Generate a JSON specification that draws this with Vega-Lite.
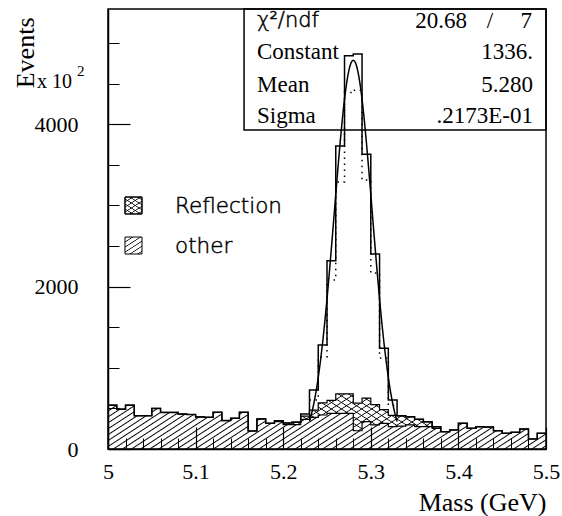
{
"$schema":"https://vega.github.io/schema/vega-lite/v6.json",
"width":438,"height":440,
"autosize":{"type":"none"},
"padding":{"left":108,"top":9,"right":16,"bottom":67},
"background":"white",
"config":{"view":{"stroke":"#000","strokeWidth":1.5}},
"resolve":{"axis":{"x":"independent","y":"independent"}},
"datasets":{
"one":[{}],
"h":[
{"m":5.00,"o":540,"t":540},{"m":5.01,"o":490,"t":490},{"m":5.02,"o":540,"t":540},{"m":5.03,"o":410,"t":410},{"m":5.04,"o":410,"t":410},
{"m":5.05,"o":500,"t":500},{"m":5.06,"o":450,"t":450},{"m":5.07,"o":450,"t":450},{"m":5.08,"o":430,"t":430},{"m":5.09,"o":425,"t":425},
{"m":5.10,"o":395,"t":395},{"m":5.11,"o":390,"t":390},{"m":5.12,"o":452,"t":452},{"m":5.13,"o":350,"t":350},{"m":5.14,"o":378,"t":378},
{"m":5.15,"o":452,"t":452},{"m":5.16,"o":222,"t":222},{"m":5.17,"o":370,"t":370},{"m":5.18,"o":316,"t":316},{"m":5.19,"o":337,"t":347},
{"m":5.20,"o":300,"t":320},{"m":5.21,"o":300,"t":330},{"m":5.22,"o":366,"t":430},{"m":5.23,"o":390,"t":727},{"m":5.24,"o":419,"t":1281},
{"m":5.25,"o":440,"t":2320},{"m":5.26,"o":440,"t":3732},{"m":5.27,"o":440,"t":4845},{"m":5.28,"o":225,"t":4866},{"m":5.29,"o":337,"t":3630},
{"m":5.30,"o":296,"t":2402},{"m":5.31,"o":316,"t":1240},{"m":5.32,"o":275,"t":604},{"m":5.33,"o":283,"t":410},{"m":5.34,"o":296,"t":396},
{"m":5.35,"o":275,"t":365},{"m":5.36,"o":275,"t":335},{"m":5.37,"o":255,"t":275},{"m":5.38,"o":214,"t":214},{"m":5.39,"o":234,"t":234},
{"m":5.40,"o":316,"t":316},{"m":5.41,"o":255,"t":255},{"m":5.42,"o":275,"t":275},{"m":5.43,"o":270,"t":270},{"m":5.44,"o":226,"t":226},
{"m":5.45,"o":193,"t":193},{"m":5.46,"o":205,"t":205},{"m":5.47,"o":246,"t":246},{"m":5.48,"o":123,"t":123},{"m":5.49,"o":193,"t":193},
{"m":5.50,"o":193,"t":193}],
"r":[
{"m":5.19,"o":337,"t":347},{"m":5.20,"o":300,"t":320},{"m":5.21,"o":300,"t":330},{"m":5.22,"o":366,"t":406},{"m":5.23,"o":390,"t":480},
{"m":5.24,"o":419,"t":569},{"m":5.25,"o":440,"t":600},{"m":5.26,"o":440,"t":680},{"m":5.27,"o":440,"t":680},{"m":5.28,"o":225,"t":565},
{"m":5.29,"o":337,"t":627},{"m":5.30,"o":296,"t":546},{"m":5.31,"o":316,"t":486},{"m":5.32,"o":275,"t":415},{"m":5.33,"o":283,"t":408},
{"m":5.34,"o":296,"t":396},{"m":5.35,"o":275,"t":365},{"m":5.36,"o":275,"t":335},{"m":5.37,"o":255,"t":275},{"m":5.38,"o":255,"t":275}],
"sig":[
{"m":5.23,"v":604},{"m":5.24,"v":1133},{"m":5.25,"v":2082},{"m":5.26,"v":3290},{"m":5.27,"v":4390},{"m":5.28,"v":4420},
{"m":5.29,"v":3313},{"m":5.30,"v":2168},{"m":5.31,"v":1121},{"m":5.32,"v":540},{"m":5.33,"v":540}],
"fit":[
{"m":5.23,"g":339},{"m":5.2325,"g":439},{"m":5.235,"g":561},{"m":5.2375,"g":707},{"m":5.24,"g":880},{"m":5.2425,"g":1081},
{"m":5.245,"g":1309},{"m":5.2475,"g":1565},{"m":5.25,"g":1847},{"m":5.2525,"g":2151},{"m":5.255,"g":2471},{"m":5.2575,"g":2802},
{"m":5.26,"g":3136},{"m":5.2625,"g":3463},{"m":5.265,"g":3775},{"m":5.2675,"g":4060},{"m":5.27,"g":4309},{"m":5.2725,"g":4513},
{"m":5.275,"g":4665},{"m":5.2775,"g":4758},{"m":5.28,"g":4790},{"m":5.2825,"g":4758},{"m":5.285,"g":4665},{"m":5.2875,"g":4513},
{"m":5.29,"g":4309},{"m":5.2925,"g":4060},{"m":5.295,"g":3775},{"m":5.2975,"g":3463},{"m":5.30,"g":3136},{"m":5.3025,"g":2802},
{"m":5.305,"g":2471},{"m":5.3075,"g":2151},{"m":5.31,"g":1847},{"m":5.3125,"g":1565},{"m":5.315,"g":1309},{"m":5.3175,"g":1081},
{"m":5.32,"g":880},{"m":5.3225,"g":707},{"m":5.325,"g":561},{"m":5.3275,"g":439},{"m":5.33,"g":339}]
},
"layer":[
{"data":{"name":"h"},
 "mark":{"type":"area","interpolate":"step-after","fill":{"gradient":"linear","x1":0,"y1":0,"x2":1.1273,"y2":0.1737,"stops":[
{"offset":0.0145,"color":"transparent"},{"offset":0.018,"color":"#000"},{"offset":0.0215,"color":"transparent"},
{"offset":0.0325,"color":"transparent"},{"offset":0.036,"color":"#000"},{"offset":0.0395,"color":"transparent"},
{"offset":0.0505,"color":"transparent"},{"offset":0.054,"color":"#000"},{"offset":0.0575,"color":"transparent"},
{"offset":0.0685,"color":"transparent"},{"offset":0.072,"color":"#000"},{"offset":0.0755,"color":"transparent"},
{"offset":0.0865,"color":"transparent"},{"offset":0.09,"color":"#000"},{"offset":0.0935,"color":"transparent"},
{"offset":0.1045,"color":"transparent"},{"offset":0.108,"color":"#000"},{"offset":0.1115,"color":"transparent"},
{"offset":0.1225,"color":"transparent"},{"offset":0.126,"color":"#000"},{"offset":0.1295,"color":"transparent"},
{"offset":0.1405,"color":"transparent"},{"offset":0.144,"color":"#000"},{"offset":0.1475,"color":"transparent"},
{"offset":0.1585,"color":"transparent"},{"offset":0.162,"color":"#000"},{"offset":0.1655,"color":"transparent"},
{"offset":0.1765,"color":"transparent"},{"offset":0.18,"color":"#000"},{"offset":0.1835,"color":"transparent"},
{"offset":0.1945,"color":"transparent"},{"offset":0.198,"color":"#000"},{"offset":0.2015,"color":"transparent"},
{"offset":0.2125,"color":"transparent"},{"offset":0.216,"color":"#000"},{"offset":0.2195,"color":"transparent"},
{"offset":0.2305,"color":"transparent"},{"offset":0.234,"color":"#000"},{"offset":0.2375,"color":"transparent"},
{"offset":0.2485,"color":"transparent"},{"offset":0.252,"color":"#000"},{"offset":0.2555,"color":"transparent"},
{"offset":0.2665,"color":"transparent"},{"offset":0.27,"color":"#000"},{"offset":0.2735,"color":"transparent"},
{"offset":0.2845,"color":"transparent"},{"offset":0.288,"color":"#000"},{"offset":0.2915,"color":"transparent"},
{"offset":0.3025,"color":"transparent"},{"offset":0.306,"color":"#000"},{"offset":0.3095,"color":"transparent"},
{"offset":0.3205,"color":"transparent"},{"offset":0.324,"color":"#000"},{"offset":0.3275,"color":"transparent"},
{"offset":0.3385,"color":"transparent"},{"offset":0.342,"color":"#000"},{"offset":0.3455,"color":"transparent"},
{"offset":0.3565,"color":"transparent"},{"offset":0.36,"color":"#000"},{"offset":0.3635,"color":"transparent"},
{"offset":0.3745,"color":"transparent"},{"offset":0.378,"color":"#000"},{"offset":0.3815,"color":"transparent"},
{"offset":0.3925,"color":"transparent"},{"offset":0.396,"color":"#000"},{"offset":0.3995,"color":"transparent"},
{"offset":0.4105,"color":"transparent"},{"offset":0.414,"color":"#000"},{"offset":0.4175,"color":"transparent"},
{"offset":0.4285,"color":"transparent"},{"offset":0.432,"color":"#000"},{"offset":0.4355,"color":"transparent"},
{"offset":0.4465,"color":"transparent"},{"offset":0.45,"color":"#000"},{"offset":0.4535,"color":"transparent"},
{"offset":0.4645,"color":"transparent"},{"offset":0.468,"color":"#000"},{"offset":0.4715,"color":"transparent"},
{"offset":0.4825,"color":"transparent"},{"offset":0.486,"color":"#000"},{"offset":0.4895,"color":"transparent"},
{"offset":0.5005,"color":"transparent"},{"offset":0.504,"color":"#000"},{"offset":0.5075,"color":"transparent"},
{"offset":0.5185,"color":"transparent"},{"offset":0.522,"color":"#000"},{"offset":0.5255,"color":"transparent"},
{"offset":0.5365,"color":"transparent"},{"offset":0.54,"color":"#000"},{"offset":0.5435,"color":"transparent"},
{"offset":0.5545,"color":"transparent"},{"offset":0.558,"color":"#000"},{"offset":0.5615,"color":"transparent"},
{"offset":0.5725,"color":"transparent"},{"offset":0.576,"color":"#000"},{"offset":0.5795,"color":"transparent"},
{"offset":0.5905,"color":"transparent"},{"offset":0.594,"color":"#000"},{"offset":0.5975,"color":"transparent"},
{"offset":0.6085,"color":"transparent"},{"offset":0.612,"color":"#000"},{"offset":0.6155,"color":"transparent"},
{"offset":0.6265,"color":"transparent"},{"offset":0.63,"color":"#000"},{"offset":0.6335,"color":"transparent"},
{"offset":0.6445,"color":"transparent"},{"offset":0.648,"color":"#000"},{"offset":0.6515,"color":"transparent"},
{"offset":0.6625,"color":"transparent"},{"offset":0.666,"color":"#000"},{"offset":0.6695,"color":"transparent"},
{"offset":0.6805,"color":"transparent"},{"offset":0.684,"color":"#000"},{"offset":0.6875,"color":"transparent"},
{"offset":0.6985,"color":"transparent"},{"offset":0.702,"color":"#000"},{"offset":0.7055,"color":"transparent"},
{"offset":0.7165,"color":"transparent"},{"offset":0.72,"color":"#000"},{"offset":0.7235,"color":"transparent"},
{"offset":0.7345,"color":"transparent"},{"offset":0.738,"color":"#000"},{"offset":0.7415,"color":"transparent"},
{"offset":0.7525,"color":"transparent"},{"offset":0.756,"color":"#000"},{"offset":0.7595,"color":"transparent"},
{"offset":0.7705,"color":"transparent"},{"offset":0.774,"color":"#000"},{"offset":0.7775,"color":"transparent"},
{"offset":0.7885,"color":"transparent"},{"offset":0.792,"color":"#000"},{"offset":0.7955,"color":"transparent"},
{"offset":0.8065,"color":"transparent"},{"offset":0.81,"color":"#000"},{"offset":0.8135,"color":"transparent"},
{"offset":0.8245,"color":"transparent"},{"offset":0.828,"color":"#000"},{"offset":0.8315,"color":"transparent"},
{"offset":0.8425,"color":"transparent"},{"offset":0.846,"color":"#000"},{"offset":0.8495,"color":"transparent"},
{"offset":0.8605,"color":"transparent"},{"offset":0.864,"color":"#000"},{"offset":0.8675,"color":"transparent"},
{"offset":0.8785,"color":"transparent"},{"offset":0.882,"color":"#000"},{"offset":0.8855,"color":"transparent"},
{"offset":0.8965,"color":"transparent"},{"offset":0.9,"color":"#000"},{"offset":0.9035,"color":"transparent"},
{"offset":0.9145,"color":"transparent"},{"offset":0.918,"color":"#000"},{"offset":0.9215,"color":"transparent"},
{"offset":0.9325,"color":"transparent"},{"offset":0.936,"color":"#000"},{"offset":0.9395,"color":"transparent"},
{"offset":0.9505,"color":"transparent"},{"offset":0.954,"color":"#000"},{"offset":0.9575,"color":"transparent"},
{"offset":0.9685,"color":"transparent"},{"offset":0.972,"color":"#000"},{"offset":0.9755,"color":"transparent"},
{"offset":0.9865,"color":"transparent"},{"offset":0.99,"color":"#000"},{"offset":0.9935,"color":"transparent"}]}},
 "encoding":{
  "x":{"field":"m","type":"quantitative","scale":{"domain":[5,5.5],"nice":false,"zero":false},
   "axis":{"values":[5,5.1,5.2,5.3,5.4,5.5],"format":"~g","orient":"bottom","tickSize":-22,"tickColor":"#000","tickWidth":1.2,"domain":true,"domainColor":"#000","domainWidth":1.5,"labelFont":"Liberation Serif","labelFontSize":22,"labelColor":"#000","labelPadding":34,"labelBaseline":"top","labelFlush":false,"labelOverlap":false,"labelBound":false,"grid":false,"title":"Mass (GeV)","titleFont":"Liberation Serif","titleFontSize":26,"titleFontWeight":"normal","titleColor":"#000","titleAlign":"right","titleBaseline":"alphabetic","titleX":438,"titleY":61,"zindex":1}},
  "y":{"field":"o","type":"quantitative","stack":null,"scale":{"domain":[0,5420],"nice":false,"zero":false},
   "axis":{"values":[0,2000,4000],"format":"d","orient":"left","tickSize":-22,"tickColor":"#000","tickWidth":1.2,"domain":true,"domainColor":"#000","domainWidth":1.5,"labelFont":"Liberation Serif","labelFontSize":22,"labelColor":"#000","labelPadding":52,"labelAlign":"right","labelBaseline":"middle","labelOverlap":false,"labelBound":false,"grid":false,"title":"Events","titleFont":"Liberation Serif","titleFontSize":26,"titleFontWeight":"normal","titleColor":"#000","titleAngle":270,"titleAlign":"right","titleBaseline":"alphabetic","titleX":-75,"titleY":8,"zindex":1}}
 }},
{"data":{"name":"r"},
 "mark":{"type":"area","interpolate":"step-after","fill":{"gradient":"linear","x1":0,"y1":0,"x2":1.2014,"y2":0.4105,"stops":[
{"offset":0.0385,"color":"transparent"},{"offset":0.045,"color":"#000"},{"offset":0.0515,"color":"transparent"},
{"offset":0.0835,"color":"transparent"},{"offset":0.09,"color":"#000"},{"offset":0.0965,"color":"transparent"},
{"offset":0.1285,"color":"transparent"},{"offset":0.135,"color":"#000"},{"offset":0.1415,"color":"transparent"},
{"offset":0.1735,"color":"transparent"},{"offset":0.18,"color":"#000"},{"offset":0.1865,"color":"transparent"},
{"offset":0.2185,"color":"transparent"},{"offset":0.225,"color":"#000"},{"offset":0.2315,"color":"transparent"},
{"offset":0.2635,"color":"transparent"},{"offset":0.27,"color":"#000"},{"offset":0.2765,"color":"transparent"},
{"offset":0.3085,"color":"transparent"},{"offset":0.315,"color":"#000"},{"offset":0.3215,"color":"transparent"},
{"offset":0.3535,"color":"transparent"},{"offset":0.36,"color":"#000"},{"offset":0.3665,"color":"transparent"},
{"offset":0.3985,"color":"transparent"},{"offset":0.405,"color":"#000"},{"offset":0.4115,"color":"transparent"},
{"offset":0.4435,"color":"transparent"},{"offset":0.45,"color":"#000"},{"offset":0.4565,"color":"transparent"},
{"offset":0.4885,"color":"transparent"},{"offset":0.495,"color":"#000"},{"offset":0.5015,"color":"transparent"},
{"offset":0.5335,"color":"transparent"},{"offset":0.54,"color":"#000"},{"offset":0.5465,"color":"transparent"},
{"offset":0.5785,"color":"transparent"},{"offset":0.585,"color":"#000"},{"offset":0.5915,"color":"transparent"},
{"offset":0.6235,"color":"transparent"},{"offset":0.63,"color":"#000"},{"offset":0.6365,"color":"transparent"},
{"offset":0.6685,"color":"transparent"},{"offset":0.675,"color":"#000"},{"offset":0.6815,"color":"transparent"},
{"offset":0.7135,"color":"transparent"},{"offset":0.72,"color":"#000"},{"offset":0.7265,"color":"transparent"},
{"offset":0.7585,"color":"transparent"},{"offset":0.765,"color":"#000"},{"offset":0.7715,"color":"transparent"},
{"offset":0.8035,"color":"transparent"},{"offset":0.81,"color":"#000"},{"offset":0.8165,"color":"transparent"},
{"offset":0.8485,"color":"transparent"},{"offset":0.855,"color":"#000"},{"offset":0.8615,"color":"transparent"},
{"offset":0.8935,"color":"transparent"},{"offset":0.9,"color":"#000"},{"offset":0.9065,"color":"transparent"},
{"offset":0.9385,"color":"transparent"},{"offset":0.945,"color":"#000"},{"offset":0.9515,"color":"transparent"},
{"offset":0.9835,"color":"transparent"},{"offset":0.99,"color":"#000"},{"offset":0.9965,"color":"transparent"}]}},
 "encoding":{
  "x":{"field":"m","type":"quantitative","scale":{"domain":[5,5.5],"nice":false,"zero":false},"axis":null},
  "y":{"field":"t","type":"quantitative","stack":null,"scale":{"domain":[0,5420],"nice":false,"zero":false},"axis":null},
  "y2":{"field":"o"}}},
{"data":{"name":"r"},
 "mark":{"type":"area","interpolate":"step-after","fill":{"gradient":"linear","x1":0,"y1":1,"x2":1.2014,"y2":0.5895,"stops":[
{"offset":0.0385,"color":"transparent"},{"offset":0.045,"color":"#000"},{"offset":0.0515,"color":"transparent"},
{"offset":0.0835,"color":"transparent"},{"offset":0.09,"color":"#000"},{"offset":0.0965,"color":"transparent"},
{"offset":0.1285,"color":"transparent"},{"offset":0.135,"color":"#000"},{"offset":0.1415,"color":"transparent"},
{"offset":0.1735,"color":"transparent"},{"offset":0.18,"color":"#000"},{"offset":0.1865,"color":"transparent"},
{"offset":0.2185,"color":"transparent"},{"offset":0.225,"color":"#000"},{"offset":0.2315,"color":"transparent"},
{"offset":0.2635,"color":"transparent"},{"offset":0.27,"color":"#000"},{"offset":0.2765,"color":"transparent"},
{"offset":0.3085,"color":"transparent"},{"offset":0.315,"color":"#000"},{"offset":0.3215,"color":"transparent"},
{"offset":0.3535,"color":"transparent"},{"offset":0.36,"color":"#000"},{"offset":0.3665,"color":"transparent"},
{"offset":0.3985,"color":"transparent"},{"offset":0.405,"color":"#000"},{"offset":0.4115,"color":"transparent"},
{"offset":0.4435,"color":"transparent"},{"offset":0.45,"color":"#000"},{"offset":0.4565,"color":"transparent"},
{"offset":0.4885,"color":"transparent"},{"offset":0.495,"color":"#000"},{"offset":0.5015,"color":"transparent"},
{"offset":0.5335,"color":"transparent"},{"offset":0.54,"color":"#000"},{"offset":0.5465,"color":"transparent"},
{"offset":0.5785,"color":"transparent"},{"offset":0.585,"color":"#000"},{"offset":0.5915,"color":"transparent"},
{"offset":0.6235,"color":"transparent"},{"offset":0.63,"color":"#000"},{"offset":0.6365,"color":"transparent"},
{"offset":0.6685,"color":"transparent"},{"offset":0.675,"color":"#000"},{"offset":0.6815,"color":"transparent"},
{"offset":0.7135,"color":"transparent"},{"offset":0.72,"color":"#000"},{"offset":0.7265,"color":"transparent"},
{"offset":0.7585,"color":"transparent"},{"offset":0.765,"color":"#000"},{"offset":0.7715,"color":"transparent"},
{"offset":0.8035,"color":"transparent"},{"offset":0.81,"color":"#000"},{"offset":0.8165,"color":"transparent"},
{"offset":0.8485,"color":"transparent"},{"offset":0.855,"color":"#000"},{"offset":0.8615,"color":"transparent"},
{"offset":0.8935,"color":"transparent"},{"offset":0.9,"color":"#000"},{"offset":0.9065,"color":"transparent"},
{"offset":0.9385,"color":"transparent"},{"offset":0.945,"color":"#000"},{"offset":0.9515,"color":"transparent"},
{"offset":0.9835,"color":"transparent"},{"offset":0.99,"color":"#000"},{"offset":0.9965,"color":"transparent"}]}},
 "encoding":{
  "x":{"field":"m","type":"quantitative","scale":{"domain":[5,5.5],"nice":false,"zero":false},"axis":null},
  "y":{"field":"t","type":"quantitative","stack":null,"scale":{"domain":[0,5420],"nice":false,"zero":false},"axis":null},
  "y2":{"field":"o"}}},
{"data":{"name":"h"},
 "mark":{"type":"line","interpolate":"step-after","stroke":"#000","strokeWidth":1.2},
 "encoding":{
  "x":{"field":"m","type":"quantitative","scale":{"domain":[5,5.5],"nice":false,"zero":false},
   "axis":{"values":[5.02,5.04,5.06,5.08,5.12,5.14,5.16,5.18,5.22,5.24,5.26,5.28,5.32,5.34,5.36,5.38,5.42,5.44,5.46,5.48],"orient":"bottom","tickSize":-11,"tickColor":"#000","tickWidth":1,"labels":false,"domain":false,"grid":false,"title":null,"zindex":1}},
  "y":{"field":"o","type":"quantitative","stack":null,"scale":{"domain":[0,5420],"nice":false,"zero":false},
   "axis":{"values":[500,1000,1500,2500,3000,3500,4500,5000],"orient":"left","tickSize":-11,"tickColor":"#000","tickWidth":1,"labels":false,"domain":false,"grid":false,"title":null,"zindex":1}}}},
{"data":{"name":"r"},
 "mark":{"type":"line","interpolate":"step-after","stroke":"#000","strokeWidth":1.2},
 "encoding":{
  "x":{"field":"m","type":"quantitative","scale":{"domain":[5,5.5],"nice":false,"zero":false},"axis":null},
  "y":{"field":"t","type":"quantitative","stack":null,"scale":{"domain":[0,5420],"nice":false,"zero":false},"axis":null}}},
{"data":{"name":"h"},
 "mark":{"type":"line","interpolate":"step-after","stroke":"#000","strokeWidth":1.5},
 "encoding":{
  "x":{"field":"m","type":"quantitative","scale":{"domain":[5,5.5],"nice":false,"zero":false},"axis":null},
  "y":{"field":"t","type":"quantitative","stack":null,"scale":{"domain":[0,5420],"nice":false,"zero":false},"axis":null}}},
{"data":{"name":"sig"},
 "mark":{"type":"line","interpolate":"step-after","stroke":"#000","strokeWidth":1.5,"strokeDash":[1.5,4.5]},
 "encoding":{
  "x":{"field":"m","type":"quantitative","scale":{"domain":[5,5.5],"nice":false,"zero":false},"axis":null},
  "y":{"field":"v","type":"quantitative","stack":null,"scale":{"domain":[0,5420],"nice":false,"zero":false},"axis":null}}},
{"data":{"name":"fit"},
 "mark":{"type":"line","interpolate":"monotone","stroke":"#000","strokeWidth":1.5},
 "encoding":{
  "x":{"field":"m","type":"quantitative","scale":{"domain":[5,5.5],"nice":false,"zero":false},"axis":null},
  "y":{"field":"g","type":"quantitative","stack":null,"scale":{"domain":[0,5420],"nice":false,"zero":false},"axis":null}}},
{"data":{"name":"one"},
 "mark":{"type":"rect","fill":null,"stroke":"#000","strokeWidth":1.5},
 "encoding":{
  "x":{"datum":5.1553,"type":"quantitative","scale":{"domain":[5,5.5],"nice":false,"zero":false},"axis":null},"x2":{"datum":5.5},
  "y":{"datum":3930,"type":"quantitative","scale":{"domain":[0,5420],"nice":false,"zero":false},"axis":null},"y2":{"datum":5420}}},
{"data":{"name":"one"},
 "mark":{"type":"text","text":"χ²/ndf","align":"left","baseline":"middle","font":"DejaVu Sans","fontWeight":200,"fontSize":21,"color":"#000","stroke":"#000","strokeWidth":0.5},
 "encoding":{"x":{"datum":5.1701,"type":"quantitative","scale":{"domain":[5,5.5],"nice":false,"zero":false},"axis":null},"y":{"datum":5272,"type":"quantitative","scale":{"domain":[0,5420],"nice":false,"zero":false},"axis":null}}},
{"data":{"name":"one"},
 "mark":{"type":"text","text":"20.68","align":"right","baseline":"middle","font":"Liberation Serif","fontSize":23,"color":"#000"},
 "encoding":{"x":{"datum":5.4098,"type":"quantitative","scale":{"domain":[5,5.5],"nice":false,"zero":false},"axis":null},"y":{"datum":5272,"type":"quantitative","scale":{"domain":[0,5420],"nice":false,"zero":false},"axis":null}}},
{"data":{"name":"one"},
 "mark":{"type":"text","text":"/","align":"center","baseline":"middle","font":"Liberation Serif","fontSize":23,"color":"#000"},
 "encoding":{"x":{"datum":5.4361,"type":"quantitative","scale":{"domain":[5,5.5],"nice":false,"zero":false},"axis":null},"y":{"datum":5272,"type":"quantitative","scale":{"domain":[0,5420],"nice":false,"zero":false},"axis":null}}},
{"data":{"name":"one"},
 "mark":{"type":"text","text":"7","align":"right","baseline":"middle","font":"Liberation Serif","fontSize":23,"color":"#000"},
 "encoding":{"x":{"datum":5.484,"type":"quantitative","scale":{"domain":[5,5.5],"nice":false,"zero":false},"axis":null},"y":{"datum":5272,"type":"quantitative","scale":{"domain":[0,5420],"nice":false,"zero":false},"axis":null}}},
{"data":{"name":"one"},
 "mark":{"type":"text","text":"Constant","align":"left","baseline":"middle","font":"Liberation Serif","fontSize":23,"color":"#000"},
 "encoding":{"x":{"datum":5.1701,"type":"quantitative","scale":{"domain":[5,5.5],"nice":false,"zero":false},"axis":null},"y":{"datum":4890,"type":"quantitative","scale":{"domain":[0,5420],"nice":false,"zero":false},"axis":null}}},
{"data":{"name":"one"},
 "mark":{"type":"text","text":"1336.","align":"right","baseline":"middle","font":"Liberation Serif","fontSize":23,"color":"#000"},
 "encoding":{"x":{"datum":5.4852,"type":"quantitative","scale":{"domain":[5,5.5],"nice":false,"zero":false},"axis":null},"y":{"datum":4890,"type":"quantitative","scale":{"domain":[0,5420],"nice":false,"zero":false},"axis":null}}},
{"data":{"name":"one"},
 "mark":{"type":"text","text":"Mean","align":"left","baseline":"middle","font":"Liberation Serif","fontSize":23,"color":"#000"},
 "encoding":{"x":{"datum":5.1701,"type":"quantitative","scale":{"domain":[5,5.5],"nice":false,"zero":false},"axis":null},"y":{"datum":4484,"type":"quantitative","scale":{"domain":[0,5420],"nice":false,"zero":false},"axis":null}}},
{"data":{"name":"one"},
 "mark":{"type":"text","text":"5.280","align":"right","baseline":"middle","font":"Liberation Serif","fontSize":23,"color":"#000"},
 "encoding":{"x":{"datum":5.4852,"type":"quantitative","scale":{"domain":[5,5.5],"nice":false,"zero":false},"axis":null},"y":{"datum":4484,"type":"quantitative","scale":{"domain":[0,5420],"nice":false,"zero":false},"axis":null}}},
{"data":{"name":"one"},
 "mark":{"type":"text","text":"Sigma","align":"left","baseline":"middle","font":"Liberation Serif","fontSize":23,"color":"#000"},
 "encoding":{"x":{"datum":5.1701,"type":"quantitative","scale":{"domain":[5,5.5],"nice":false,"zero":false},"axis":null},"y":{"datum":4102,"type":"quantitative","scale":{"domain":[0,5420],"nice":false,"zero":false},"axis":null}}},
{"data":{"name":"one"},
 "mark":{"type":"text","text":".2173E-01","align":"right","baseline":"middle","font":"Liberation Serif","fontSize":23,"color":"#000"},
 "encoding":{"x":{"datum":5.4852,"type":"quantitative","scale":{"domain":[5,5.5],"nice":false,"zero":false},"axis":null},"y":{"datum":4102,"type":"quantitative","scale":{"domain":[0,5420],"nice":false,"zero":false},"axis":null}}},
{"data":{"name":"one"},
 "mark":{"type":"rect","stroke":"#000","strokeWidth":1,"fill":{"gradient":"linear","x1":0,"y1":0,"x2":0.7534,"y2":1.1601,"stops":[
{"offset":0.15,"color":"transparent"},{"offset":0.18,"color":"#000"},{"offset":0.21,"color":"transparent"},
{"offset":0.33,"color":"transparent"},{"offset":0.36,"color":"#000"},{"offset":0.39,"color":"transparent"},
{"offset":0.51,"color":"transparent"},{"offset":0.54,"color":"#000"},{"offset":0.57,"color":"transparent"},
{"offset":0.69,"color":"transparent"},{"offset":0.72,"color":"#000"},{"offset":0.75,"color":"transparent"},
{"offset":0.87,"color":"transparent"},{"offset":0.9,"color":"#000"},{"offset":0.93,"color":"transparent"}]}},
 "encoding":{
  "x":{"datum":5.0194,"type":"quantitative","scale":{"domain":[5,5.5],"nice":false,"zero":false},"axis":null},"x2":{"datum":5.0388},
  "y":{"datum":2895,"type":"quantitative","scale":{"domain":[0,5420],"nice":false,"zero":false},"axis":null},"y2":{"datum":3104}}},
{"data":{"name":"one"},
 "mark":{"type":"rect","stroke":"#000","strokeWidth":1,"fill":{"gradient":"linear","x1":0,"y1":1,"x2":0.7534,"y2":-0.1601,"stops":[
{"offset":0.15,"color":"transparent"},{"offset":0.18,"color":"#000"},{"offset":0.21,"color":"transparent"},
{"offset":0.33,"color":"transparent"},{"offset":0.36,"color":"#000"},{"offset":0.39,"color":"transparent"},
{"offset":0.51,"color":"transparent"},{"offset":0.54,"color":"#000"},{"offset":0.57,"color":"transparent"},
{"offset":0.69,"color":"transparent"},{"offset":0.72,"color":"#000"},{"offset":0.75,"color":"transparent"},
{"offset":0.87,"color":"transparent"},{"offset":0.9,"color":"#000"},{"offset":0.93,"color":"transparent"}]}},
 "encoding":{
  "x":{"datum":5.0194,"type":"quantitative","scale":{"domain":[5,5.5],"nice":false,"zero":false},"axis":null},"x2":{"datum":5.0388},
  "y":{"datum":2895,"type":"quantitative","scale":{"domain":[0,5420],"nice":false,"zero":false},"axis":null},"y2":{"datum":3104}}},
{"data":{"name":"one"},
 "mark":{"type":"rect","stroke":"#000","strokeWidth":1,"fill":{"gradient":"linear","x1":0,"y1":0,"x2":0.7534,"y2":1.1601,"stops":[
{"offset":0.15,"color":"transparent"},{"offset":0.18,"color":"#000"},{"offset":0.21,"color":"transparent"},
{"offset":0.33,"color":"transparent"},{"offset":0.36,"color":"#000"},{"offset":0.39,"color":"transparent"},
{"offset":0.51,"color":"transparent"},{"offset":0.54,"color":"#000"},{"offset":0.57,"color":"transparent"},
{"offset":0.69,"color":"transparent"},{"offset":0.72,"color":"#000"},{"offset":0.75,"color":"transparent"},
{"offset":0.87,"color":"transparent"},{"offset":0.9,"color":"#000"},{"offset":0.93,"color":"transparent"}]}},
 "encoding":{
  "x":{"datum":5.0194,"type":"quantitative","scale":{"domain":[5,5.5],"nice":false,"zero":false},"axis":null},"x2":{"datum":5.0388},
  "y":{"datum":2402,"type":"quantitative","scale":{"domain":[0,5420],"nice":false,"zero":false},"axis":null},"y2":{"datum":2611}}},
{"data":{"name":"one"},
 "mark":{"type":"text","text":"Reflection","align":"left","baseline":"middle","font":"DejaVu Sans","fontWeight":200,"fontSize":21.5,"color":"#000","stroke":"#000","strokeWidth":0.5},
 "encoding":{"x":{"datum":5.0765,"type":"quantitative","scale":{"domain":[5,5.5],"nice":false,"zero":false},"axis":null},"y":{"datum":2981,"type":"quantitative","scale":{"domain":[0,5420],"nice":false,"zero":false},"axis":null}}},
{"data":{"name":"one"},
 "mark":{"type":"text","text":"other","align":"left","baseline":"middle","font":"DejaVu Sans","fontWeight":200,"fontSize":21.5,"color":"#000","stroke":"#000","strokeWidth":0.5},
 "encoding":{"x":{"datum":5.0765,"type":"quantitative","scale":{"domain":[5,5.5],"nice":false,"zero":false},"axis":null},"y":{"datum":2488,"type":"quantitative","scale":{"domain":[0,5420],"nice":false,"zero":false},"axis":null}}},
{"data":{"name":"one"},
 "mark":{"type":"text","text":"x 10","align":"right","baseline":"alphabetic","font":"Liberation Serif","fontSize":20,"color":"#000"},
 "encoding":{"x":{"datum":4.9589,"type":"quantitative","scale":{"domain":[5,5.5],"nice":false,"zero":false},"axis":null},"y":{"datum":4447,"type":"quantitative","scale":{"domain":[0,5420],"nice":false,"zero":false},"axis":null}}},
{"data":{"name":"one"},
 "mark":{"type":"text","text":"2","align":"left","baseline":"alphabetic","font":"Liberation Serif","fontSize":15,"color":"#000"},
 "encoding":{"x":{"datum":4.9646,"type":"quantitative","scale":{"domain":[5,5.5],"nice":false,"zero":false},"axis":null},"y":{"datum":4595,"type":"quantitative","scale":{"domain":[0,5420],"nice":false,"zero":false},"axis":null}}}
]
}
